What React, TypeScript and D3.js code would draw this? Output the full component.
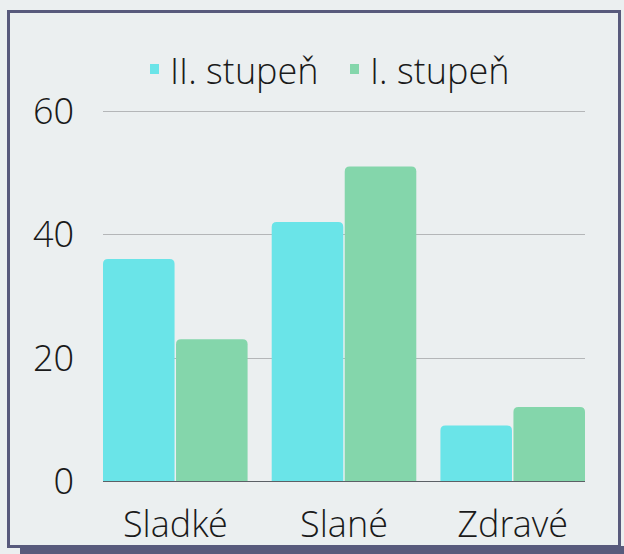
import React from "react";
import * as d3 from "d3";

const categories = ["Sladké", "Slané", "Zdravé"];
const seriesNames = ["II. stupeň", "I. stupeň"];
const seriesII = [36, 42, 9];
const seriesI = [23, 51, 12];
const yTicks = [0, 20, 40, 60];

const W = 624;
const H = 554;
const colors = ["#6ae4e8", "#84d6ab"];
const FONT = "'Open Sans Light', 'Open Sans', sans-serif";

function topRounded(x: number, y: number, w: number, h: number, r: number) {
  const rr = Math.min(r, h, w / 2);
  return `M${x},${y + h}V${y + rr}Q${x},${y} ${x + rr},${y}H${x + w - rr}Q${x + w},${y} ${x + w},${y + rr}V${y + h}Z`;
}

export default function App() {
  const x0 = d3.scaleBand<string>().domain(categories).range([103, 585]).paddingInner(0.143).paddingOuter(0);
  const x1 = d3.scaleBand<string>().domain(seriesNames).range([0, x0.bandwidth()]).paddingInner(0.02);
  const y = d3.scaleLinear().domain([0, 60]).range([481, 111]);
  const data = [seriesII, seriesI];

  return (
    <svg width={W} height={H} style={{ position: "absolute", left: 0, top: 0, background: "#ebeff0" }} fontFamily={FONT}>
      <rect x={0} y={0} width={W} height={H} fill="#ebeff0" />
      <rect x={20} y={546} width={W - 20} height={8} fill="#585a7c" />
      <rect x={8.5} y={11.5} width={611} height={535} fill="#ebeff0" stroke="#585a7c" strokeWidth={3} />
      {yTicks.filter((t) => t !== 0).map((t) => (
        <line key={t} x1={103} x2={585} y1={Math.round(y(t)) + 0.5} y2={Math.round(y(t)) + 0.5} stroke="#b4b6b8" strokeWidth={1} />
      ))}
      {yTicks.map((t) => (
        <text key={t} x={74} y={y(t)} dy="0.36em" textAnchor="end" fontSize={36} fontWeight={300} fill="#1a1a1a">
          {t}
        </text>
      ))}
      {categories.map((c, i) =>
        seriesNames.map((s, j) => {
          const v = data[j][i];
          const bx = (x0(c) as number) + (x1(s) as number);
          const by = y(v);
          return <path key={c + s} d={topRounded(bx, by, x1.bandwidth(), y(0) - by, 5)} fill={colors[j]} />;
        })
      )}
      <line x1={103} x2={585} y1={481.5} y2={481.5} stroke="#5c6066" strokeWidth={1} />
      {categories.map((c) => (
        <text key={c} x={(x0(c) as number) + x0.bandwidth() / 2} y={537} textAnchor="middle" fontSize={36} fontWeight={300} fill="#1a1a1a">
          {c}
        </text>
      ))}
      <g>
        <rect x={150} y={64} width={9} height={10} fill={colors[0]} />
        <text x={170} y={84} fontSize={36} fontWeight={300} fill="#1a1a1a">{seriesNames[0]}</text>
        <rect x={350} y={64} width={9} height={10} fill={colors[1]} />
        <text x={370} y={84} fontSize={36} fontWeight={300} fill="#1a1a1a">{seriesNames[1]}</text>
      </g>
    </svg>
  );
}
